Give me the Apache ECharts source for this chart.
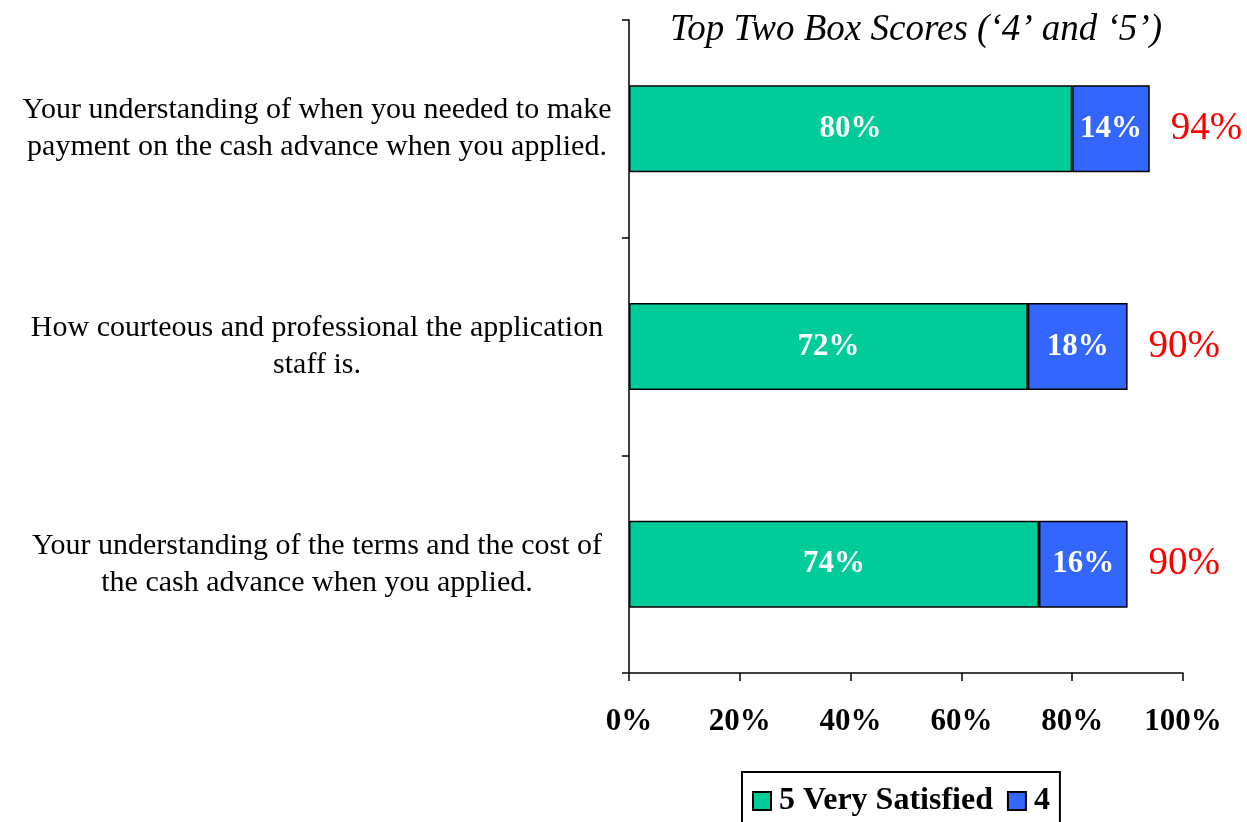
<!DOCTYPE html>
<html>
<head>
<meta charset="utf-8">
<script src="https://cdn.jsdelivr.net/npm/echarts@6/dist/echarts.min.js"></script>
<style>
  html, body { margin: 0; padding: 0; background: #ffffff; }
  #chart { width: 1247px; height: 822px; }
</style>
</head>
<body>
<div id="chart"></div>
<script>
// Survey items, top to bottom
const categories = [
  'Your understanding of when you needed to make\npayment on the cash advance when you applied.',
  'How courteous and professional the application\nstaff is.',
  'Your understanding of the terms and the cost of\nthe cash advance when you applied.'
];
// Share of respondents (%) per score
const verySatisfied = [80, 72, 74];   // score 5
const scoreFour = [14, 18, 16];       // score 4
const xTicks = [0, 20, 40, 60, 80, 100];

const totals = verySatisfied.map((v, i) => v + scoreFour[i]);

const serif = '"Liberation Serif", "Times New Roman", serif';

const chart = echarts.init(document.getElementById('chart'), null, { renderer: 'canvas' });

const barBorder = { borderColor: '#000000', borderWidth: 1.5 };
const insideLabel = {
  show: true,
  position: 'inside',
  color: '#ffffff',
  fontFamily: serif,
  fontWeight: 'bold',
  fontSize: 31,
  formatter: p => p.value + '%'
};

chart.setOption({
  animation: false,
  backgroundColor: '#ffffff',
  title: {
    text: 'Top Two Box Scores (\u20184\u2019 and \u20185\u2019)',
    left: 911,
    textAlign: 'center',
    top: 7,
    textStyle: { fontFamily: serif, fontStyle: 'italic', fontWeight: 'normal', fontSize: 37, color: '#000000' }
  },
  legend: {
    left: 742,
    top: 772,
    padding: [13, 10, 10, 10],
    itemGap: 14,
    itemWidth: 18,
    itemHeight: 18,
    icon: 'rect',
    borderColor: '#000000',
    borderWidth: 2,
    textStyle: { fontFamily: serif, fontWeight: 'bold', fontSize: 32, color: '#000000', padding: [0, 0, 0, 3] },
    data: ['5 Very Satisfied', '4']
  },
  grid: { left: 629, right: 64, top: 20, bottom: 149, containLabel: false },
  xAxis: {
    type: 'value',
    min: 0,
    max: 100,
    interval: 20,
    axisLine: { show: true, lineStyle: { color: '#000000', width: 1.5 } },
    axisTick: { show: true, length: 8, lineStyle: { color: '#000000', width: 1.5 } },
    splitLine: { show: false },
    axisLabel: {
      margin: 33,
      fontFamily: serif,
      fontWeight: 'bold',
      fontSize: 31,
      color: '#000000',
      formatter: v => (xTicks.includes(v) ? v + '%' : '')
    }
  },
  yAxis: {
    type: 'category',
    inverse: true,
    data: categories,
    axisLine: { show: true, lineStyle: { color: '#000000', width: 1.5 } },
    axisTick: { show: true, length: 7, lineStyle: { color: '#000000', width: 1.5 } },
    axisLabel: {
      margin: 312,
      align: 'center',
      fontFamily: serif,
      fontSize: 30,
      lineHeight: 37,
      color: '#000000'
    }
  },
  series: [
    {
      name: '5 Very Satisfied',
      type: 'bar',
      stack: 'top2',
      barWidth: '40%',
      data: verySatisfied,
      itemStyle: Object.assign({ color: '#00CC99' }, barBorder),
      label: insideLabel
    },
    {
      name: '4',
      type: 'bar',
      stack: 'top2',
      data: scoreFour,
      itemStyle: Object.assign({ color: '#3366FF' }, barBorder),
      label: insideLabel
    },
    {
      // zero-width cap that carries the combined top-two score
      name: 'total',
      type: 'bar',
      stack: 'top2',
      data: totals.map(() => 0),
      itemStyle: { color: 'rgba(0,0,0,0)', borderWidth: 0 },
      label: {
        show: true,
        position: 'right',
        distance: 21,
        color: '#FF0000',
        fontFamily: serif,
        fontSize: 39,
        formatter: p => totals[p.dataIndex] + '%'
      },
      silent: true
    }
  ]
});
</script>
</body>
</html>
